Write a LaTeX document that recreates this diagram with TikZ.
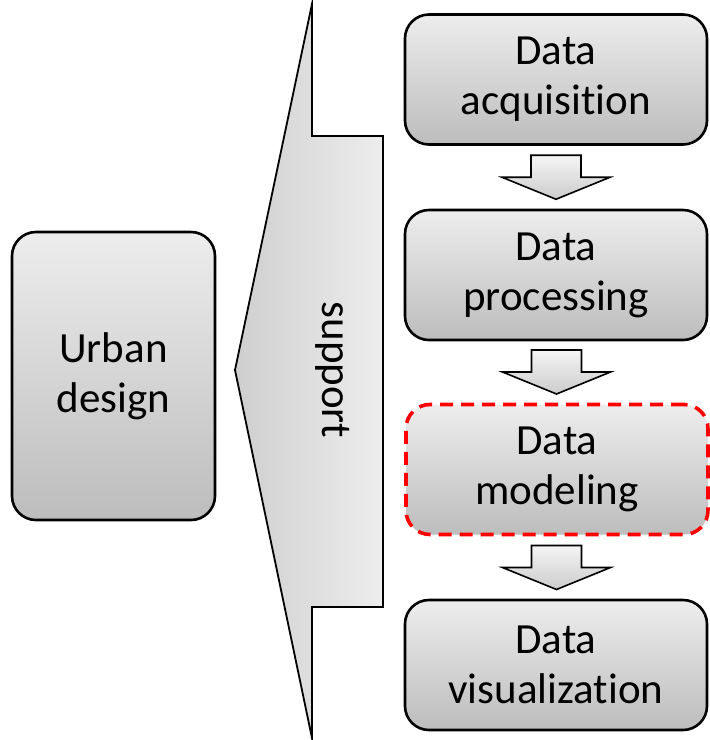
\documentclass[tikz,border=0pt]{standalone}
\usepackage{fontspec}
\setmainfont[Ligatures=NoCommon]{Carlito}
\usetikzlibrary{shadings,calc}
\begin{document}
\begin{tikzpicture}[x=1pt,y=-1pt,
  box/.style={draw=black,line width=2.6pt,rounded corners=24pt,top color=gray!14,bottom color=gray!52,
    align=center,font=\fontsize{43}{50}\selectfont,inner sep=0pt},
  stagebox/.style={box,minimum width=302pt,minimum height=130pt},
  blockarrow/.style={draw=black,line width=1.6pt,top color=gray!8,bottom color=gray!40,line join=miter},
  bigarrow/.style={draw=black,line width=1.8pt,left color=gray!38,right color=gray!14,line join=miter}]
\useasboundingbox (0,0) rectangle (710,740);
% big support arrow
\draw[bigarrow] (235,370) -- (312,4) -- (312,136) -- (383,136) -- (383,607) -- (312,607) -- (312,738) -- cycle;
\node[rotate=-90,font=\fontsize{43}{50}\selectfont] (sup) at (333,370) {support};
% boxes
\node[box,minimum width=203pt,minimum height=288pt] (urban) at (113.5,376) {Urban\\design};
\node[stagebox] (acq) at (556,79.5) {Data\\acquisition};
\node[stagebox] (proc) at (556,275) {Data\\processing};
\node[stagebox,draw=red,line width=3.6pt,dash pattern=on 13pt off 8pt] (model) at (557,469.5) {Data\\modeling};
\node[stagebox] (vis) at (556,665) {Data\\visualization};
% block arrows
\foreach \a/\b in {acq/proc,proc/model,model/vis}{
  \coordinate (m) at ($(\a.south)!0.5!(\b.north)$);
  \draw[blockarrow] ($(m)+(-25,-22)$) -- ($(m)+(25,-22)$) -- ($(m)+(25,0)$) -- ($(m)+(54,0)$)
     -- ($(m)+(0,22)$) -- ($(m)+(-54,0)$) -- ($(m)+(-25,0)$) -- cycle;
}
\end{tikzpicture}
\end{document}
